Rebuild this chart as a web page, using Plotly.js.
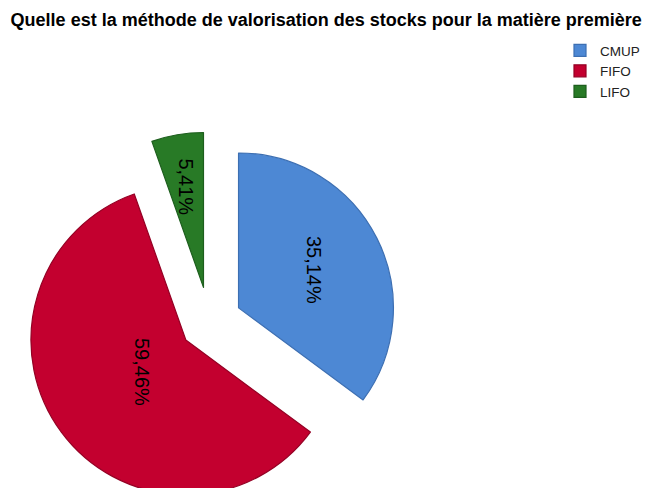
<!DOCTYPE html>
<html><head><meta charset="utf-8">
<script src="https://cdn.plot.ly/plotly-3.0.1.min.js"></script>
<style>html,body{margin:0;padding:0;overflow:hidden;background:#fff}#chart{width:646px;height:530px}</style>
</head><body><div id="chart"></div>
<script>
const categories = ['CMUP', 'FIFO', 'LIFO'];
const counts = [13, 22, 2];
const sliceColors = ['#4d88d4', '#c3002f', '#287a26'];
const edgeColors = ['#3d6fb2', '#940024', '#1d5e1d'];
const pulls = [0.21, 0.19, 0.23];
const labelRadius = [0.55, 0.35, 0.66];
const titleText = 'Quelle est la méthode de valorisation des stocks pour la matière première';

const W = 646, H = 530;
const FONT = '"Liberation Sans", Arial, sans-serif';

const data = [{
  type: 'pie',
  labels: categories,
  values: counts,
  sort: false,
  direction: 'clockwise',
  rotation: 0,
  pull: pulls,
  textinfo: 'none',
  hoverinfo: 'skip',
  marker: {colors: sliceColors, line: {color: edgeColors, width: 1.2}}
}];

const layout = {
  width: W, height: H,
  margin: {l: 19, r: 246, t: 132, b: 17},
  paper_bgcolor: '#fff',
  font: {family: FONT, color: '#000'},
  title: {
    text: '<b>' + titleText + '</b>',
    font: {family: FONT, size: 18, color: '#000'},
    xref: 'container', x: 0.505, xanchor: 'center',
    yref: 'container', y: 1 - 13 / H, yanchor: 'top'
  },
  showlegend: true,
  legend: {
    xref: 'container', yref: 'container',
    x: 560 / W, xanchor: 'left',
    y: 1 - 35 / H, yanchor: 'top',
    font: {family: FONT, size: 13.5, color: '#222'},
    bgcolor: 'rgba(0,0,0,0)', borderwidth: 0,
    traceorder: 'normal'
  }
};

const gd = document.getElementById('chart');
Plotly.newPlot(gd, data, layout, {staticPlot: true, displayModeBar: false}).then(function (g) {
  const total = counts.reduce((a, b) => a + b, 0);
  const fs = g._fullLayout._size;
  const cd = g.calcdata && g.calcdata[0];
  const annotations = [];
  for (let i = 0; i < categories.length; i++) {
    let cx, cy, mx, my;
    if (cd && cd[0] && cd[i] && cd[i].pxmid) {
      cx = cd[0].cx; cy = cd[0].cy; mx = cd[i].pxmid[0]; my = cd[i].pxmid[1];
    } else {
      const maxPull = Math.max.apply(null, pulls);
      const r = Math.min(fs.w, fs.h) / (2 + 2 * maxPull);
      cx = fs.l + fs.w / 2; cy = fs.t + fs.h / 2;
      let before = 0; for (let j = 0; j < i; j++) before += counts[j];
      const a = 2 * Math.PI * (before + counts[i] / 2) / total;
      mx = r * Math.sin(a); my = -r * Math.cos(a);
    }
    const k = pulls[i] + labelRadius[i];
    const px = cx + mx * k, py = cy + my * k;
    const txt = (counts[i] / total * 100).toFixed(2).replace('.', ',') + '%';
    annotations.push({
      xref: 'paper', yref: 'paper',
      x: (px - fs.l) / fs.w, y: 1 - (py - fs.t) / fs.h,
      xanchor: 'center', yanchor: 'middle',
      text: txt, textangle: 90, showarrow: false,
      font: {family: FONT, size: 20, color: '#000'}
    });
  }
  return Plotly.relayout(g, {annotations: annotations});
});
</script>
</body></html>
